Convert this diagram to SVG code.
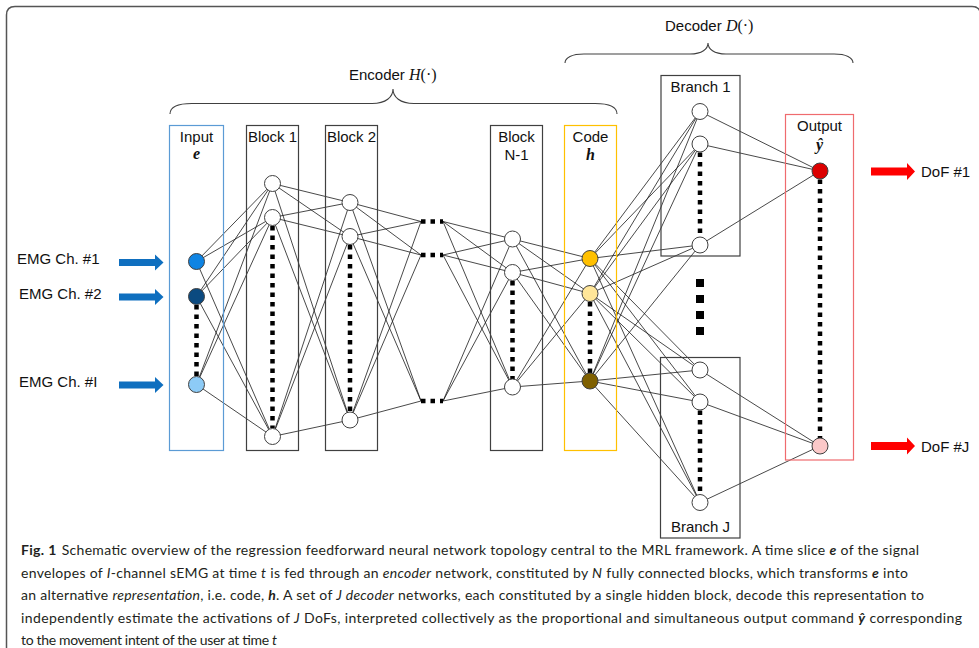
<svg xmlns="http://www.w3.org/2000/svg" width="979" height="648" viewBox="0 0 979 648">
  <style>
    .lbl { font-family: "Liberation Sans", Arial, sans-serif; font-size: 15px; fill: #111; }
    .math { font-family: "Liberation Serif", "DejaVu Serif", serif; font-size: 16px; fill: #111; }
    .mi { font-style: italic; }
    .mb { font-style: italic; font-weight: bold; }
    .cap { font-family: Lato, "Noto Sans", sans-serif; font-size: 14px; fill: #231f20; }
    .capb { font-weight: bold; }
    .capi { font-style: italic; }
    .box { fill: none; stroke: #404040; stroke-width: 1.2; }
    .node { stroke: #404040; stroke-width: 1; }
    .hid { fill: #ffffff; }
    .wire { fill: none; stroke: #1a1a1a; stroke-width: 0.8; }
    .dots { stroke: #000; stroke-width: 4.5; stroke-dasharray: 4.5 5; fill: none; }
    .brace { fill: none; stroke: #404040; stroke-width: 1.1; }
  </style>
  <defs>
    <path id="arrowBlue" d="M0,-3.5 H36 V-8 L44.5,0 L36,8 V3.5 H0 Z" fill="#0f6fbf"/>
    <path id="arrowRed" d="M0,-4 H36 V-8.5 L44,0 L36,8.5 V4 H0 Z" fill="#ff0000"/>
  </defs>

  <rect width="979" height="648" fill="#ffffff"/>
  <!-- figure frame -->
  <path d="M6.5,648 V15 Q6.5,6.5 15,6.5 H972 Q980.5,6.5 980.5,15 V648" fill="none" stroke="#555" stroke-width="1.5"/>

  <!-- group labels and braces -->
  <g id="encoder-label">
    <path class="brace" d="M170,114 C170,107 178,103.5 192,103.5 L372,103.5 C386,103.5 393,97 393,89 C393,97 400,103.5 414,103.5 L595,103.5 C609,103.5 617,107 617,114"/>
    <text x="349" y="80"><tspan class="lbl">Encoder </tspan><tspan class="math mi">H</tspan><tspan class="math">(·)</tspan></text>
  </g>
  <g id="decoder-label">
    <path class="brace" d="M565,63 C565,57.5 572,54 584,54 L690,54 C702,54 708,49 708,43 C708,49 714,54 726,54 L834,54 C846,54 853,57.5 853,63"/>
    <text x="665" y="31"><tspan class="lbl">Decoder </tspan><tspan class="math mi">D</tspan><tspan class="math">(·)</tspan></text>
  </g>

  <!-- connectors -->
  <g id="connectors">
    <!-- input to block 1 -->
    <path class="wire" d="M196.5,261.5 L272.5,183.5 M196.5,261.5 L272.5,217.5 M196.5,261.5 L272.5,436.5
      M196.5,296.5 L272.5,183.5 M196.5,296.5 L272.5,217.5 M196.5,296.5 L272.5,436.5
      M196.5,384.5 L272.5,183.5 M196.5,384.5 L272.5,217.5 M196.5,384.5 L272.5,436.5"/>
    <!-- block 1 to block 2 -->
    <path class="wire" d="M272.5,183.5 L350,202.5 M272.5,183.5 L350,236.5 M272.5,183.5 L350,420
      M272.5,217.5 L350,202.5 M272.5,217.5 L350,236.5 M272.5,217.5 L350,420
      M272.5,436.5 L350,202.5 M272.5,436.5 L350,236.5 M272.5,436.5 L350,420"/>
    <!-- block 2 to hidden blocks -->
    <path class="wire" d="M350,202.5 L421,221.5 M350,202.5 L421,255 M350,202.5 L421,401
      M350,236.5 L421,221.5 M350,236.5 L421,255 M350,236.5 L421,401
      M350,420 L421,221.5 M350,420 L421,255 M350,420 L421,401"/>
    <!-- hidden blocks to block N-1 -->
    <path class="wire" d="M443,221.5 L512.5,239 M443,221.5 L512.5,272.5 M443,221.5 L512.5,387
      M443,255 L512.5,239 M443,255 L512.5,272.5 M443,255 L512.5,387
      M443,401 L512.5,239 M443,401 L512.5,272.5 M443,401 L512.5,387"/>
    <!-- block N-1 to code -->
    <path class="wire" d="M512.5,239 L590,258.5 M512.5,239 L590,293.5 M512.5,239 L590,381
      M512.5,272.5 L590,258.5 M512.5,272.5 L590,293.5 M512.5,272.5 L590,381
      M512.5,387 L590,258.5 M512.5,387 L590,293.5 M512.5,387 L590,381"/>
    <!-- code to decoder branches -->
    <path class="wire" d="M590,258.5 L700,111.5 M590,258.5 L700,144 M590,258.5 L700,245 M590,258.5 L700,370 M590,258.5 L700,402 M590,258.5 L700,502.5
      M590,293.5 L700,111.5 M590,293.5 L700,144 M590,293.5 L700,245 M590,293.5 L700,370 M590,293.5 L700,402 M590,293.5 L700,502.5
      M590,381 L700,111.5 M590,381 L700,144 M590,381 L700,245 M590,381 L700,370 M590,381 L700,402 M590,381 L700,502.5"/>
    <!-- branches to outputs -->
    <path class="wire" d="M700,111.5 L820,171 M700,144 L820,171 M700,245 L820,171
      M700,370 L820,446 M700,402 L820,446 M700,502.5 L820,446"/>
  </g>

  <!-- EMG inputs -->
  <g id="emg-inputs">
    <text class="lbl" x="17" y="264">EMG Ch. #1</text>
    <text class="lbl" x="19" y="299">EMG Ch. #2</text>
    <text class="lbl" x="19" y="386.5">EMG Ch. #I</text>
    <use href="#arrowBlue" transform="translate(119,262.5)"/>
    <use href="#arrowBlue" transform="translate(119,297)"/>
    <use href="#arrowBlue" transform="translate(119,385)"/>
  </g>

  <g id="input-layer">
    <rect x="169.5" y="125.5" width="54" height="325" fill="none" stroke="#5b9bd5" stroke-width="1.2"/>
    <text class="lbl" x="196.5" y="142" text-anchor="middle">Input</text>
    <text class="math mb" x="196.5" y="159" text-anchor="middle">e</text>
    <line class="dots" x1="196.5" y1="305" x2="196.5" y2="377"/>
    <circle class="node" cx="196.5" cy="261.5" r="8" fill="#0f84e3"/>
    <circle class="node" cx="196.5" cy="296.5" r="8" fill="#0b4a80"/>
    <circle class="node" cx="196.5" cy="384.5" r="8" fill="#8dcbf6"/>
  </g>

  <g id="block-1">
    <rect class="box" x="246.5" y="125.5" width="52" height="325"/>
    <text class="lbl" x="272.5" y="142" text-anchor="middle">Block 1</text>
    <line class="dots" x1="272.5" y1="226" x2="272.5" y2="428"/>
    <circle class="node hid" cx="272.5" cy="183.5" r="8"/>
    <circle class="node hid" cx="272.5" cy="217.5" r="8"/>
    <circle class="node hid" cx="272.5" cy="436.5" r="8"/>
  </g>

  <g id="block-2">
    <rect class="box" x="325.5" y="125.5" width="52" height="325"/>
    <text class="lbl" x="351.5" y="142" text-anchor="middle">Block 2</text>
    <line class="dots" x1="350" y1="245" x2="350" y2="412"/>
    <circle class="node hid" cx="350" cy="202.5" r="8"/>
    <circle class="node hid" cx="350" cy="236.5" r="8"/>
    <circle class="node hid" cx="350" cy="420" r="8"/>
  </g>

  <g id="hidden-blocks">
    <line class="dots" x1="421" y1="221.5" x2="443" y2="221.5" stroke-dasharray="5 5" stroke-width="5"/>
    <line class="dots" x1="421" y1="255" x2="443" y2="255" stroke-dasharray="5 5" stroke-width="5"/>
    <line class="dots" x1="421" y1="401" x2="443" y2="401" stroke-dasharray="5 5" stroke-width="5"/>
  </g>

  <g id="block-n-1">
    <rect class="box" x="490.5" y="125.5" width="52" height="325"/>
    <text class="lbl" x="516.5" y="142" text-anchor="middle">Block</text>
    <text class="lbl" x="516.5" y="160" text-anchor="middle">N-1</text>
    <line class="dots" x1="512.5" y1="281" x2="512.5" y2="379"/>
    <circle class="node hid" cx="512.5" cy="239" r="8"/>
    <circle class="node hid" cx="512.5" cy="272.5" r="8"/>
    <circle class="node hid" cx="512.5" cy="387" r="8"/>
  </g>

  <g id="code-layer">
    <rect x="564.5" y="125.5" width="52" height="325" fill="none" stroke="#ffc000" stroke-width="1.2"/>
    <text class="lbl" x="590.5" y="142" text-anchor="middle">Code</text>
    <text class="math mb" x="590.5" y="160" text-anchor="middle">h</text>
    <line class="dots" x1="590" y1="302" x2="590" y2="373"/>
    <circle class="node" cx="590" cy="258.5" r="8" fill="#ffc000"/>
    <circle class="node" cx="590" cy="293.5" r="8" fill="#ffe699"/>
    <circle class="node" cx="590" cy="381" r="8" fill="#7f6000"/>
  </g>

  <g id="branch-1">
    <rect class="box" x="661" y="75.5" width="79" height="180.5"/>
    <text class="lbl" x="700.5" y="91.5" text-anchor="middle">Branch 1</text>
    <line class="dots" x1="700" y1="152.5" x2="700" y2="237"/>
    <circle class="node hid" cx="700" cy="111.5" r="8"/>
    <circle class="node hid" cx="700" cy="144" r="8"/>
    <circle class="node hid" cx="700" cy="245" r="8"/>
  </g>

  <g id="branch-ellipsis">
    <line x1="700" y1="279" x2="700" y2="335" stroke="#000" stroke-width="8" stroke-dasharray="8 8"/>
  </g>

  <g id="branch-j">
    <rect class="box" x="660.5" y="357.5" width="79.5" height="180.5"/>
    <text class="lbl" x="700.5" y="531.5" text-anchor="middle">Branch J</text>
    <line class="dots" x1="700" y1="410.5" x2="700" y2="494"/>
    <circle class="node hid" cx="700" cy="370" r="8"/>
    <circle class="node hid" cx="700" cy="402" r="8"/>
    <circle class="node hid" cx="700" cy="502.5" r="8"/>
  </g>

  <g id="output-layer">
    <rect x="785.5" y="114.5" width="68" height="345.5" fill="none" stroke="#ef6b6e" stroke-width="1.2"/>
    <text class="lbl" x="819.5" y="131" text-anchor="middle">Output</text>
    <text class="math mb" x="819.5" y="150" text-anchor="middle">ŷ</text>
    <line class="dots" x1="820" y1="179.5" x2="820" y2="438"/>
    <circle class="node" cx="820" cy="171" r="8" fill="#dc0000"/>
    <circle class="node" cx="820" cy="446" r="8" fill="#fbc8c8"/>
  </g>

  <g id="dof-outputs">
    <use href="#arrowRed" transform="translate(871,171.5)"/>
    <use href="#arrowRed" transform="translate(871,446)"/>
    <text class="lbl" x="921" y="177">DoF #1</text>
    <text class="lbl" x="921" y="452">DoF #J</text>
  </g>

  <!-- caption -->
  <g id="caption">
    <text class="cap" x="21" y="555" textLength="898" lengthAdjust="spacing"><tspan class="capb">Fig. 1</tspan><tspan dx="5">Schematic overview of the regression feedforward neural network topology central to the MRL framework. A time slice </tspan><tspan class="capb capi">e</tspan> of the signal</text>
    <text class="cap" x="21" y="577.5" textLength="887" lengthAdjust="spacing">envelopes of <tspan class="capi">I</tspan>-channel sEMG at time <tspan class="capi">t</tspan> is fed through an <tspan class="capi">encoder</tspan> network, constituted by <tspan class="capi">N</tspan> fully connected blocks, which transforms <tspan class="capb capi">e</tspan> into</text>
    <text class="cap" x="21" y="600" textLength="903" lengthAdjust="spacing">an alternative <tspan class="capi">representation</tspan>, i.e. code, <tspan class="capb capi">h</tspan>. A set of <tspan class="capi">J decoder</tspan> networks, each constituted by a single hidden block, decode this representation to</text>
    <text class="cap" x="21" y="622.5" textLength="941" lengthAdjust="spacing">independently estimate the activations of <tspan class="capi">J</tspan> DoFs, interpreted collectively as the proportional and simultaneous output command <tspan class="capb capi">ŷ</tspan> corresponding</text>
    <text class="cap" x="21" y="645" textLength="256" lengthAdjust="spacing">to the movement intent of the user at time <tspan class="capi">t</tspan></text>
  </g>
</svg>
